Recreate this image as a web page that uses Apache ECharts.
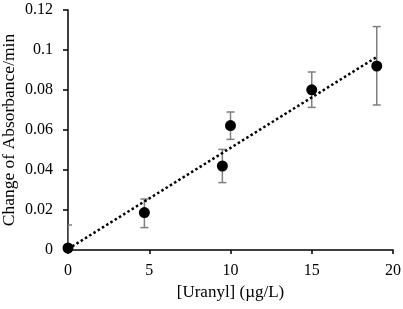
<!DOCTYPE html>
<html>
<head>
<meta charset="utf-8">
<script src="https://cdn.jsdelivr.net/npm/echarts@6/dist/echarts.min.js"></script>
<style>
  html, body { margin: 0; padding: 0; background: #fff; }
  #chart { width: 403px; height: 309px; }
</style>
</head>
<body>
<div id="chart"></div>
<script>
// measured points
var uranyl = [0, 4.7, 9.5, 10, 15, 19];
var absRate = [0.001, 0.0187, 0.042, 0.0622, 0.0801, 0.092];
// error bar ends
var errLow = [-0.0105, 0.0112, 0.0337, 0.0553, 0.0713, 0.0725];
var errHigh = [0.0125, 0.0255, 0.0503, 0.069, 0.089, 0.1117];
// linear trend line end points
var trendX = [0, 19];
var trendY = [0.0005, 0.0965];

var font = '"Liberation Serif", "Times New Roman", serif';

var chart = echarts.init(document.getElementById('chart'));

var option = {
  animation: false,
  grid: { left: 68, right: 10, top: 10, bottom: 59, outerBoundsMode: 'none' },
  xAxis: {
    type: 'value',
    min: 0,
    max: 20,
    interval: 5,
    name: '[Uranyl] (µg/L)',
    nameLocation: 'middle',
    nameGap: 34,
    nameMoveOverlap: false,
    nameTextStyle: { fontFamily: font, fontSize: 17, color: '#000' },
    axisLine: { show: true, lineStyle: { color: '#000', width: 1.5 } },
    axisTick: { show: true, length: 4, lineStyle: { color: '#000', width: 1.5 } },
    splitLine: { show: false },
    axisLabel: { fontFamily: font, fontSize: 16, color: '#000', margin: 13 }
  },
  yAxis: {
    type: 'value',
    min: 0,
    max: 0.12,
    interval: 0.02,
    name: 'Change of Absorbance/min',
    nameLocation: 'middle',
    nameGap: 50,
    nameMoveOverlap: false,
    nameTextStyle: { fontFamily: font, fontSize: 17.5, color: '#000' },
    axisLine: { show: true, lineStyle: { color: '#000', width: 1.5 } },
    axisTick: { show: true, inside: false, length: 5, lineStyle: { color: '#000', width: 1.5 } },
    splitLine: { show: false },
    axisLabel: { fontFamily: font, fontSize: 16, color: '#000', margin: 15 }
  },
  series: [
    {
      type: 'custom',
      clip: true,
      z: 2,
      data: uranyl.map(function (x, i) { return [x, errLow[i], errHigh[i]]; }),
      renderItem: function (params, api) {
        var lo = api.coord([api.value(0), api.value(1)]);
        var hi = api.coord([api.value(0), api.value(2)]);
        var hw = 4;
        var st = { stroke: '#7f7f7f', lineWidth: 1.5 };
        return {
          type: 'group',
          children: [
            { type: 'line', shape: { x1: lo[0], y1: lo[1], x2: hi[0], y2: hi[1] }, style: st },
            { type: 'line', shape: { x1: lo[0] - hw, y1: lo[1], x2: lo[0] + hw, y2: lo[1] }, style: st },
            { type: 'line', shape: { x1: hi[0] - hw, y1: hi[1], x2: hi[0] + hw, y2: hi[1] }, style: st }
          ]
        };
      }
    },
    {
      type: 'line',
      z: 3,
      data: trendX.map(function (x, i) { return [x, trendY[i]]; }),
      symbol: 'none',
      lineStyle: { color: '#000', width: 2.5, type: [2.5, 2.5] }
    },
    {
      type: 'scatter',
      z: 4,
      clip: false,
      data: uranyl.map(function (x, i) { return [x, absRate[i]]; }),
      symbol: 'circle',
      symbolSize: 11,
      itemStyle: { color: '#000', opacity: 1 }
    }
  ]
};

chart.setOption(option);
</script>
</body>
</html>
